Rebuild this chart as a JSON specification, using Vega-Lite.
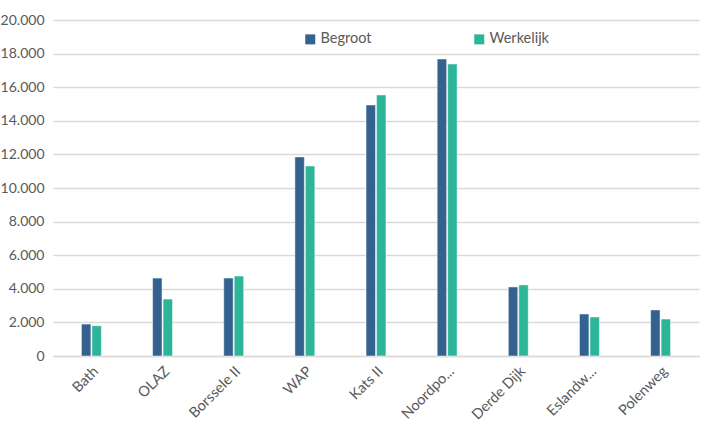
{
  "$schema": "https://vega.github.io/schema/vega-lite/v6.json",
  "autosize": "none",
  "width": 646,
  "height": 336,
  "padding": {"left": 53, "top": 20, "right": 8, "bottom": 67},
  "background": "#ffffff",
  "config": {
    "locale": {"number": {"decimal": ",", "thousands": ".", "grouping": [3], "currency": ["€", ""]}},
    "font": "Lato",
    "view": {"stroke": null},
    "axis": {"labelColor": "#595959", "labelFont": "Lato", "labelFontSize": 14}
  },
  "data": {
    "values": [
      {"project": "Bath", "serie": "Begroot", "waarde": 1900},
      {"project": "Bath", "serie": "Werkelijk", "waarde": 1800},
      {"project": "OLAZ", "serie": "Begroot", "waarde": 4640},
      {"project": "OLAZ", "serie": "Werkelijk", "waarde": 3390},
      {"project": "Borssele II", "serie": "Begroot", "waarde": 4640},
      {"project": "Borssele II", "serie": "Werkelijk", "waarde": 4760},
      {"project": "WAP", "serie": "Begroot", "waarde": 11850},
      {"project": "WAP", "serie": "Werkelijk", "waarde": 11310},
      {"project": "Kats II", "serie": "Begroot", "waarde": 14940},
      {"project": "Kats II", "serie": "Werkelijk", "waarde": 15540},
      {"project": "Noordpo...", "serie": "Begroot", "waarde": 17680},
      {"project": "Noordpo...", "serie": "Werkelijk", "waarde": 17380},
      {"project": "Derde Dijk", "serie": "Begroot", "waarde": 4110},
      {"project": "Derde Dijk", "serie": "Werkelijk", "waarde": 4230},
      {"project": "Eslandw...", "serie": "Begroot", "waarde": 2500},
      {"project": "Eslandw...", "serie": "Werkelijk", "waarde": 2320},
      {"project": "Polenweg", "serie": "Begroot", "waarde": 2740},
      {"project": "Polenweg", "serie": "Werkelijk", "waarde": 2200}
    ]
  },
  "mark": {"type": "bar", "stroke": "#ffffff", "strokeWidth": 0.8, "strokeOpacity": 0.6},
  "encoding": {
    "x": {
      "field": "project", "type": "nominal", "sort": null, "title": null,
      "scale": {"paddingInner": 0.72, "paddingOuter": 0.4},
      "axis": {"labelAngle": -45, "labelAlign": "right", "labelBaseline": "top", "ticks": false, "domain": true, "domainColor": "#d9d9d9", "domainWidth": 1.5, "labelPadding": 8, "labelFontSize": 14.5, "labelColor": "#595959"}
    },
    "xOffset": {"field": "serie", "type": "nominal", "scale": {"paddingInner": 0.1}},
    "y": {
      "field": "waarde", "type": "quantitative", "title": null,
      "scale": {"domain": [0, 20000], "nice": false},
      "axis": {"values": [0, 2000, 4000, 6000, 8000, 10000, 12000, 14000, 16000, 18000, 20000], "format": ",.0f", "domain": false, "ticks": false, "labelPadding": 9, "labelFontSize": 14, "gridColor": "#d9d9d9", "gridWidth": 1.5}
    },
    "color": {
      "field": "serie", "type": "nominal", "title": null,
      "scale": {"domain": ["Begroot", "Werkelijk"], "range": ["#33628F", "#2DB59A"]},
      "legend": {"orient": "none", "legendX": 250, "legendY": 12, "direction": "horizontal", "symbolType": "square", "symbolSize": 100, "symbolStrokeWidth": 0, "labelFontSize": 14.5, "labelColor": "#595959", "columnPadding": 100, "labelOffset": 3}
    }
  }
}
